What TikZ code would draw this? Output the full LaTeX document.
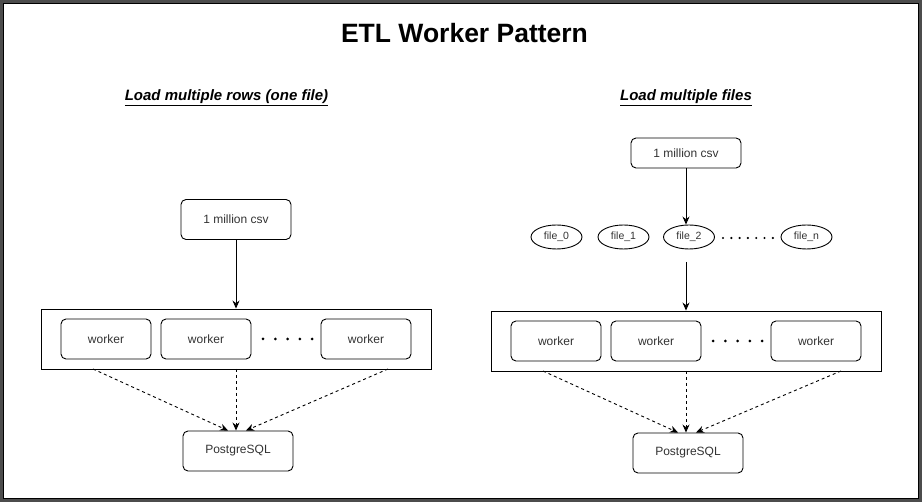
\documentclass[tikz,border=0pt]{standalone}
\usepackage{fontspec}
\setmainfont{Liberation Sans}
\usetikzlibrary{arrows.meta,shapes.geometric}
\begin{document}
\begin{tikzpicture}[x=1pt,y=-1pt,
  rbox/.style={draw,rounded corners=5pt,line width=0.9pt,minimum width=110pt,minimum height=40pt,inner sep=0pt,font=\fontsize{12}{14}\selectfont,text=black!80},
  wbox/.style={draw,rounded corners=5pt,line width=0.9pt,minimum width=90pt,minimum height=40pt,inner sep=0pt,font=\fontsize{12}{14}\selectfont,text=black!80},
  cont/.style={draw,line width=0.9pt,minimum width=390pt,minimum height=60pt,inner sep=0pt},
  fel/.style={draw,ellipse,line width=0.9pt,minimum width=51pt,minimum height=24pt,inner sep=0pt,font=\fontsize{10.5}{12}\selectfont,text=black!80},
  sub/.style={font=\fontsize{15}{17}\selectfont\bfseries\itshape},
  solidarrow/.style={-{Stealth[length=8pt,width=7pt]},line width=0.9pt},
  dasharrow/.style={-{Stealth[length=8pt,width=7pt]},line width=0.9pt,dash pattern=on 3pt off 3pt},
  dotfill/.style={fill=black,circle,inner sep=0pt,minimum size=3pt}
]
\useasboundingbox (0,0) rectangle (922,502);
\fill[white] (0,0) rectangle (922,502);
\draw[line width=3pt,black!70] (1.5,1.5) rectangle (920.5,500.5);
\draw[line width=0.8pt,black] (3.2,3.2) rectangle (918.8,498.8);

\node[font=\fontsize{26.5}{30}\selectfont\bfseries] (title) at (464.5,33) {ETL Worker Pattern};
\node[sub] (subL) at (226.5,98) {\underline{Load multiple rows (one file)}};
\node[sub] (subR) at (686,98) {\underline{Load multiple files}};

% Left
\node[rbox] (csvL) at (236,219.5) {1 million csv};
\node[cont] (contL) at (236.5,339) {};
\node[wbox] (wL1) at (106,339) {worker};
\node[wbox] (wL2) at (206,339) {worker};
\node[wbox] (wL3) at (366,339) {worker};
\foreach \i in {0,...,4} \node[dotfill] at (263+\i*12.3,339) {};
\node[rbox] (pgL) at (238,451) {PostgreSQL};
\draw[solidarrow] (csvL.south) -- (contL.north -| csvL.south);
\coordinate (dl1) at (93,369);
\coordinate (dl2) at (236,369);
\coordinate (dl3) at (388,369);
\draw[dasharrow] (dl1) -- ([xshift=-10pt]pgL.north);
\draw[dasharrow] (dl2) -- (dl2 |- pgL.north);
\draw[dasharrow] (dl3) -- ([xshift=8pt]pgL.north);

% Right
\node[rbox,minimum height=30pt] (csvR) at (686,153) {1 million csv};
\node[fel] (f0) at (556.5,237) {file\_0};
\node[fel] (f1) at (623.5,237) {file\_1};
\node[fel] (f2) at (689,237) {file\_2};
\node[fel] (fn) at (806.5,237) {file\_n};
\foreach \i in {0,...,6} \node[dotfill,minimum size=2.4pt] at (723+\i*8.3,238) {};
\node[cont] (contR) at (686.5,341) {};
\node[wbox] (wR1) at (556,341) {worker};
\node[wbox] (wR2) at (656,341) {worker};
\node[wbox] (wR3) at (816,341) {worker};
\foreach \i in {0,...,4} \node[dotfill] at (713+\i*12.3,341) {};
\node[rbox] (pgR) at (688,453) {PostgreSQL};
\draw[solidarrow] (csvR.south) -- (csvR.south |- f2.north);
\coordinate (fs) at (686,262);
\draw[solidarrow] (fs) -- (fs |- contR.north);
\coordinate (dr1) at (543,371);
\coordinate (dr2) at (686,371);
\coordinate (dr3) at (841,371);
\draw[dasharrow] (dr1) -- ([xshift=-10pt]pgR.north);
\draw[dasharrow] (dr2) -- (dr2 |- pgR.north);
\draw[dasharrow] (dr3) -- ([xshift=8pt]pgR.north);
\end{tikzpicture}
\end{document}
